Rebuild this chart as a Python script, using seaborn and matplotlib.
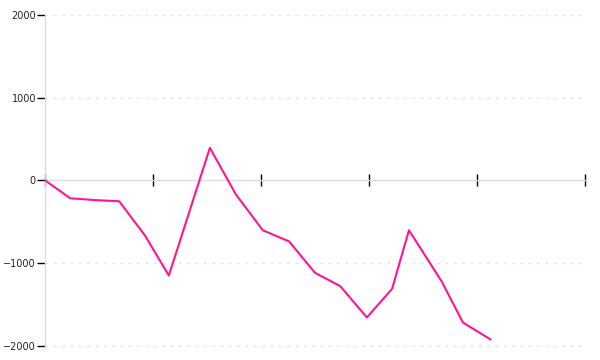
import matplotlib
matplotlib.use("Agg")
import matplotlib.pyplot as plt
import seaborn as sns
import pandas as pd

# Data (x in days, y values)
days = [0, 7, 14, 20.6, 27.8, 34.4, 45.8, 53, 60.5, 67.8, 75, 82, 89.4, 96.4, 101.1, 110.2, 116.1, 123.8]
values = [0, -218, -240, -254, -670, -1153, 392, -170, -605, -740, -1120, -1280, -1660, -1315, -605, -1225, -1722, -1927]
x_ticks = [0, 30, 60, 90, 120, 150]
y_ticks = [-2000, -1000, 0, 1000, 2000]

df = pd.DataFrame({"day": days, "value": values})

sns.set_theme(style="white")
plt.rcParams['font.family'] = ['DejaVu Sans']

fig = plt.figure(figsize=(6, 3.6), dpi=100)
ax = fig.add_axes([0.075, 0.0333, 0.9, 0.925])

for yv in y_ticks:
    if yv != 0:
        ax.axhline(yv, color="#e4e4e4", lw=1, ls=(0, (2, 4)), zorder=0)

sns.lineplot(data=df, x="day", y="value", ax=ax, color="#ff1493", lw=1.5, zorder=3)

ax.set_xlim(0, 150)
ax.set_ylim(-2030, 2000)
ax.set_xticks(x_ticks)
ax.set_yticks(y_ticks)
ax.set_yticklabels([str(v).replace("-", "\u2212") for v in y_ticks])
ax.set_xlabel("")
ax.set_ylabel("")

for s in ["top", "right"]:
    ax.spines[s].set_visible(False)
ax.spines["left"].set_color("#dddddd")
ax.spines["left"].set_linewidth(1)
ax.spines["bottom"].set_position(("data", 0))
ax.spines["bottom"].set_color("#dddddd")
ax.spines["bottom"].set_linewidth(1)

ax.tick_params(axis="x", direction="inout", length=9, width=1, color="black",
               labelbottom=False, bottom=True)
ax.tick_params(axis="y", direction="out", length=6, width=1, color="black",
               labelsize=7, labelcolor="#222222", pad=0.5, left=True)
ax.grid(False)

fig.savefig("out.png", dpi=100)
